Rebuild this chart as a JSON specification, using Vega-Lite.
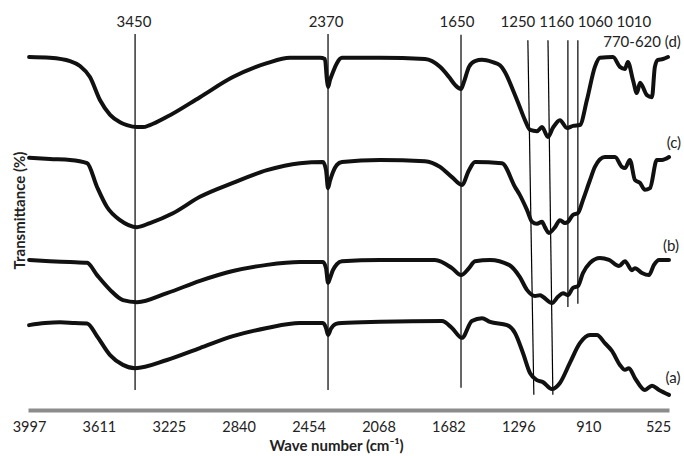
{
  "$schema": "https://vega.github.io/schema/vega-lite/v6.json",
  "width": 641,
  "height": 410,
  "autosize": {"type": "none"},
  "padding": {"left": 28, "top": 0, "right": 15, "bottom": 46},
  "background": "white",
  "config": {"view": {"stroke": null}, "font": "Lato"},
  "datasets": {
    "spectra": [
      {"s": "d", "wn": 4035, "t": 86.1}, {"s": "d", "wn": 3920, "t": 85.9}, {"s": "d", "wn": 3809, "t": 85.1}, {"s": "d", "wn": 3754, "t": 83.9}, {"s": "d", "wn": 3699, "t": 81.2}, {"s": "d", "wn": 3644, "t": 75.6}, {"s": "d", "wn": 3588, "t": 72.0}, {"s": "d", "wn": 3533, "t": 70.2}, {"s": "d", "wn": 3495, "t": 69.5}, {"s": "d", "wn": 3439, "t": 69.0}, {"s": "d", "wn": 3406, "t": 69.0}, {"s": "d", "wn": 3368, "t": 69.5}, {"s": "d", "wn": 3274, "t": 71.5}, {"s": "d", "wn": 3092, "t": 76.3}, {"s": "d", "wn": 2910, "t": 81.2}, {"s": "d", "wn": 2722, "t": 84.6}, {"s": "d", "wn": 2595, "t": 85.9}, {"s": "d", "wn": 2429, "t": 85.9}, {"s": "d", "wn": 2402, "t": 85.6}, {"s": "d", "wn": 2391, "t": 80.5}, {"s": "d", "wn": 2385, "t": 78.8}, {"s": "d", "wn": 2374, "t": 80.5}, {"s": "d", "wn": 2358, "t": 82.4}, {"s": "d", "wn": 2336, "t": 84.6}, {"s": "d", "wn": 2308, "t": 85.9}, {"s": "d", "wn": 2098, "t": 85.9}, {"s": "d", "wn": 1850, "t": 85.6}, {"s": "d", "wn": 1767, "t": 83.7}, {"s": "d", "wn": 1717, "t": 81.2}, {"s": "d", "wn": 1684, "t": 79.3}, {"s": "d", "wn": 1651, "t": 78.3}, {"s": "d", "wn": 1635, "t": 80.0}, {"s": "d", "wn": 1607, "t": 83.7}, {"s": "d", "wn": 1574, "t": 85.1}, {"s": "d", "wn": 1535, "t": 85.4}, {"s": "d", "wn": 1480, "t": 84.9}, {"s": "d", "wn": 1436, "t": 84.1}, {"s": "d", "wn": 1408, "t": 82.4}, {"s": "d", "wn": 1364, "t": 78.0}, {"s": "d", "wn": 1331, "t": 74.4}, {"s": "d", "wn": 1298, "t": 70.7}, {"s": "d", "wn": 1270, "t": 68.3}, {"s": "d", "wn": 1232, "t": 68.0}, {"s": "d", "wn": 1204, "t": 69.0}, {"s": "d", "wn": 1171, "t": 66.6}, {"s": "d", "wn": 1144, "t": 68.8}, {"s": "d", "wn": 1105, "t": 70.7}, {"s": "d", "wn": 1066, "t": 68.8}, {"s": "d", "wn": 1033, "t": 69.3}, {"s": "d", "wn": 995, "t": 69.5}, {"s": "d", "wn": 956, "t": 75.6}, {"s": "d", "wn": 912, "t": 83.7}, {"s": "d", "wn": 884, "t": 85.9}, {"s": "d", "wn": 812, "t": 86.1}, {"s": "d", "wn": 774, "t": 83.7}, {"s": "d", "wn": 746, "t": 83.2}, {"s": "d", "wn": 730, "t": 84.9}, {"s": "d", "wn": 702, "t": 80.5}, {"s": "d", "wn": 680, "t": 77.3}, {"s": "d", "wn": 663, "t": 79.8}, {"s": "d", "wn": 625, "t": 76.8}, {"s": "d", "wn": 597, "t": 76.3}, {"s": "d", "wn": 581, "t": 83.7}, {"s": "d", "wn": 564, "t": 85.4}, {"s": "d", "wn": 536, "t": 85.6}, {"s": "d", "wn": 509, "t": 86.1},

      {"s": "c", "wn": 4035, "t": 61.5}, {"s": "c", "wn": 3920, "t": 61.2}, {"s": "c", "wn": 3809, "t": 61.0}, {"s": "c", "wn": 3715, "t": 60.2}, {"s": "c", "wn": 3660, "t": 54.4}, {"s": "c", "wn": 3605, "t": 49.5}, {"s": "c", "wn": 3533, "t": 46.3}, {"s": "c", "wn": 3439, "t": 44.6}, {"s": "c", "wn": 3368, "t": 45.6}, {"s": "c", "wn": 3241, "t": 48.0}, {"s": "c", "wn": 3092, "t": 52.0}, {"s": "c", "wn": 2910, "t": 55.4}, {"s": "c", "wn": 2722, "t": 58.5}, {"s": "c", "wn": 2540, "t": 60.2}, {"s": "c", "wn": 2413, "t": 60.5}, {"s": "c", "wn": 2396, "t": 58.5}, {"s": "c", "wn": 2385, "t": 54.1}, {"s": "c", "wn": 2374, "t": 55.9}, {"s": "c", "wn": 2358, "t": 58.0}, {"s": "c", "wn": 2336, "t": 59.8}, {"s": "c", "wn": 2308, "t": 60.5}, {"s": "c", "wn": 2098, "t": 61.0}, {"s": "c", "wn": 1850, "t": 60.7}, {"s": "c", "wn": 1767, "t": 59.3}, {"s": "c", "wn": 1701, "t": 56.8}, {"s": "c", "wn": 1646, "t": 54.9}, {"s": "c", "wn": 1607, "t": 58.5}, {"s": "c", "wn": 1574, "t": 60.5}, {"s": "c", "wn": 1425, "t": 60.2}, {"s": "c", "wn": 1353, "t": 54.4}, {"s": "c", "wn": 1326, "t": 52.4}, {"s": "c", "wn": 1287, "t": 48.8}, {"s": "c", "wn": 1259, "t": 45.9}, {"s": "c", "wn": 1232, "t": 45.4}, {"s": "c", "wn": 1204, "t": 45.9}, {"s": "c", "wn": 1188, "t": 44.6}, {"s": "c", "wn": 1166, "t": 43.2}, {"s": "c", "wn": 1132, "t": 44.6}, {"s": "c", "wn": 1105, "t": 46.3}, {"s": "c", "wn": 1077, "t": 45.6}, {"s": "c", "wn": 1061, "t": 45.9}, {"s": "c", "wn": 1033, "t": 47.6}, {"s": "c", "wn": 1006, "t": 48.0}, {"s": "c", "wn": 978, "t": 51.2}, {"s": "c", "wn": 939, "t": 56.1}, {"s": "c", "wn": 912, "t": 59.3}, {"s": "c", "wn": 857, "t": 61.7}, {"s": "c", "wn": 801, "t": 61.7}, {"s": "c", "wn": 763, "t": 59.3}, {"s": "c", "wn": 746, "t": 59.0}, {"s": "c", "wn": 719, "t": 61.0}, {"s": "c", "wn": 691, "t": 56.1}, {"s": "c", "wn": 663, "t": 55.4}, {"s": "c", "wn": 636, "t": 53.7}, {"s": "c", "wn": 608, "t": 54.1}, {"s": "c", "wn": 570, "t": 61.0}, {"s": "c", "wn": 542, "t": 61.0}, {"s": "c", "wn": 503, "t": 61.7},

      {"s": "b", "wn": 4035, "t": 36.6}, {"s": "b", "wn": 3920, "t": 36.3}, {"s": "b", "wn": 3809, "t": 36.1}, {"s": "b", "wn": 3715, "t": 35.9}, {"s": "b", "wn": 3660, "t": 32.9}, {"s": "b", "wn": 3588, "t": 29.3}, {"s": "b", "wn": 3517, "t": 26.8}, {"s": "b", "wn": 3439, "t": 26.3}, {"s": "b", "wn": 3274, "t": 28.5}, {"s": "b", "wn": 3092, "t": 31.5}, {"s": "b", "wn": 2910, "t": 33.9}, {"s": "b", "wn": 2722, "t": 35.4}, {"s": "b", "wn": 2540, "t": 36.1}, {"s": "b", "wn": 2413, "t": 36.1}, {"s": "b", "wn": 2396, "t": 34.6}, {"s": "b", "wn": 2385, "t": 31.0}, {"s": "b", "wn": 2374, "t": 32.2}, {"s": "b", "wn": 2358, "t": 34.1}, {"s": "b", "wn": 2336, "t": 35.6}, {"s": "b", "wn": 2308, "t": 36.3}, {"s": "b", "wn": 2098, "t": 36.6}, {"s": "b", "wn": 1795, "t": 36.6}, {"s": "b", "wn": 1701, "t": 34.6}, {"s": "b", "wn": 1651, "t": 32.9}, {"s": "b", "wn": 1607, "t": 34.6}, {"s": "b", "wn": 1574, "t": 36.3}, {"s": "b", "wn": 1491, "t": 36.6}, {"s": "b", "wn": 1386, "t": 35.4}, {"s": "b", "wn": 1326, "t": 32.4}, {"s": "b", "wn": 1287, "t": 29.3}, {"s": "b", "wn": 1243, "t": 27.8}, {"s": "b", "wn": 1215, "t": 28.0}, {"s": "b", "wn": 1199, "t": 27.6}, {"s": "b", "wn": 1149, "t": 26.1}, {"s": "b", "wn": 1116, "t": 27.6}, {"s": "b", "wn": 1088, "t": 28.5}, {"s": "b", "wn": 1061, "t": 28.0}, {"s": "b", "wn": 1033, "t": 29.8}, {"s": "b", "wn": 1006, "t": 30.2}, {"s": "b", "wn": 978, "t": 33.4}, {"s": "b", "wn": 939, "t": 35.9}, {"s": "b", "wn": 884, "t": 37.1}, {"s": "b", "wn": 834, "t": 36.6}, {"s": "b", "wn": 779, "t": 35.1}, {"s": "b", "wn": 746, "t": 36.3}, {"s": "b", "wn": 708, "t": 34.1}, {"s": "b", "wn": 691, "t": 34.6}, {"s": "b", "wn": 652, "t": 33.4}, {"s": "b", "wn": 614, "t": 32.9}, {"s": "b", "wn": 586, "t": 35.4}, {"s": "b", "wn": 558, "t": 36.6}, {"s": "b", "wn": 503, "t": 36.6},

      {"s": "a", "wn": 4035, "t": 20.7}, {"s": "a", "wn": 3947, "t": 21.2}, {"s": "a", "wn": 3864, "t": 21.4}, {"s": "a", "wn": 3782, "t": 21.2}, {"s": "a", "wn": 3715, "t": 21.1}, {"s": "a", "wn": 3660, "t": 18.0}, {"s": "a", "wn": 3588, "t": 13.4}, {"s": "a", "wn": 3517, "t": 11.0}, {"s": "a", "wn": 3450, "t": 10.2}, {"s": "a", "wn": 3274, "t": 12.2}, {"s": "a", "wn": 3092, "t": 15.1}, {"s": "a", "wn": 2910, "t": 18.0}, {"s": "a", "wn": 2722, "t": 20.0}, {"s": "a", "wn": 2540, "t": 21.2}, {"s": "a", "wn": 2413, "t": 21.2}, {"s": "a", "wn": 2396, "t": 20.0}, {"s": "a", "wn": 2385, "t": 18.3}, {"s": "a", "wn": 2369, "t": 19.8}, {"s": "a", "wn": 2341, "t": 21.0}, {"s": "a", "wn": 2308, "t": 21.2}, {"s": "a", "wn": 2098, "t": 21.5}, {"s": "a", "wn": 1756, "t": 21.7}, {"s": "a", "wn": 1701, "t": 20.0}, {"s": "a", "wn": 1646, "t": 17.6}, {"s": "a", "wn": 1591, "t": 21.7}, {"s": "a", "wn": 1535, "t": 22.4}, {"s": "a", "wn": 1491, "t": 21.5}, {"s": "a", "wn": 1397, "t": 20.7}, {"s": "a", "wn": 1353, "t": 18.8}, {"s": "a", "wn": 1309, "t": 13.9}, {"s": "a", "wn": 1270, "t": 9.0}, {"s": "a", "wn": 1232, "t": 7.3}, {"s": "a", "wn": 1199, "t": 6.8}, {"s": "a", "wn": 1149, "t": 5.1}, {"s": "a", "wn": 1105, "t": 6.6}, {"s": "a", "wn": 1050, "t": 11.5}, {"s": "a", "wn": 995, "t": 16.3}, {"s": "a", "wn": 939, "t": 18.3}, {"s": "a", "wn": 901, "t": 18.3}, {"s": "a", "wn": 857, "t": 16.3}, {"s": "a", "wn": 818, "t": 14.4}, {"s": "a", "wn": 774, "t": 11.0}, {"s": "a", "wn": 746, "t": 9.8}, {"s": "a", "wn": 724, "t": 10.2}, {"s": "a", "wn": 691, "t": 7.8}, {"s": "a", "wn": 636, "t": 4.9}, {"s": "a", "wn": 597, "t": 5.9}, {"s": "a", "wn": 558, "t": 4.9}, {"s": "a", "wn": 503, "t": 3.7}
    ],
    "rules": [
      {"w1": 3450, "w2": 3450, "t1": 91.7, "t2": 4.9},
      {"w1": 2385, "w2": 2385, "t1": 91.7, "t2": 4.9},
      {"w1": 1651, "w2": 1651, "t1": 91.5, "t2": 5.4},
      {"w1": 1282, "w2": 1249, "t1": 90.2, "t2": 3.7},
      {"w1": 1171, "w2": 1144, "t1": 90.2, "t2": 3.7},
      {"w1": 1061, "w2": 1061, "t1": 90.2, "t2": 25.1},
      {"w1": 1006, "w2": 1006, "t1": 90.2, "t2": 25.9}
    ],
    "labels": [
      {"text": "3450", "wn": 3456, "t": 94.6},
      {"text": "2370", "wn": 2396, "t": 94.6},
      {"text": "1650", "wn": 1673, "t": 94.6},
      {"text": "1250 1160 1060 1010", "wn": 1017, "t": 94.6},
      {"text": "770-620 (d)", "wn": 652, "t": 89.8},
      {"text": "(c)", "wn": 476, "t": 65.1},
      {"text": "(b)", "wn": 492, "t": 40.0},
      {"text": "(a)", "wn": 481, "t": 7.8}
    ]
  },
  "layer": [
    {
      "data": {"name": "rules"},
      "mark": {"type": "rule", "color": "#000000", "strokeWidth": 1.2},
      "encoding": {
        "x": {"field": "w1", "type": "quantitative", "scale": {"domain": [4041, 503], "nice": false, "zero": false},
          "axis": {"values": [3997, 3611, 3225, 2840, 2454, 2068, 1682, 1296, 910, 525], "format": "d", "labelOffset": -7, "ticks": false, "tickSize": 0, "grid": false, "domainColor": "#8c8c8c", "domainWidth": 4, "labelFontSize": 14.5, "labelColor": "#222222", "labelPadding": 10, "labelFont": "Lato", "title": "Wave number (cm⁻¹)", "titleFont": "Lato", "titleFontSize": 15, "titleFontWeight": "bold", "titleColor": "#222222", "titleX": 308, "titleY": 28, "titleBaseline": "top"}},
        "x2": {"field": "w2"},
        "y": {"field": "t1", "type": "quantitative", "scale": {"domain": [0, 100], "nice": false, "zero": false},
          "axis": {"domain": false, "ticks": false, "labels": false, "grid": false, "title": "Transmittance (%)", "titleFont": "Lato", "titleFontSize": 15, "titleFontWeight": "bold", "titleColor": "#222222", "titleX": -9, "titleY": 210, "titleAngle": -90, "titleAlign": "center", "titleBaseline": "middle"}},
        "y2": {"field": "t2"}
      }
    },
    {
      "data": {"name": "spectra"},
      "mark": {"type": "line", "color": "#111111", "strokeWidth": 4, "interpolate": "monotone", "strokeJoin": "round", "strokeCap": "round"},
      "encoding": {
        "x": {"field": "wn", "type": "quantitative"},
        "y": {"field": "t", "type": "quantitative"},
        "detail": {"field": "s"},
        "order": {"field": "wn", "sort": "descending"}
      }
    },
    {
      "data": {"name": "labels"},
      "mark": {"type": "text", "font": "Lato", "fontSize": 15, "color": "#222222", "baseline": "middle", "align": "center"},
      "encoding": {
        "x": {"field": "wn", "type": "quantitative"},
        "y": {"field": "t", "type": "quantitative"},
        "text": {"field": "text"}
      }
    }
  ]
}
